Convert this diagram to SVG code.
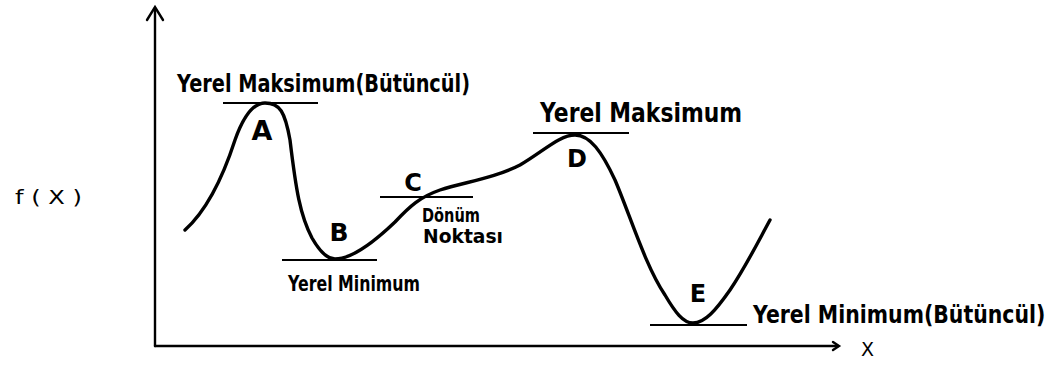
<svg xmlns="http://www.w3.org/2000/svg" width="1063" height="371" viewBox="0 0 1063 371">
<style>
.ax{stroke:#000;stroke-width:2.4;fill:none;stroke-linecap:round}
.crv{stroke:#000;stroke-width:3.4;fill:none;stroke-linecap:round;stroke-linejoin:round}
.tan{stroke:#000;stroke-width:2.2}
.t{font-family:"DejaVu Sans","Liberation Sans",sans-serif;fill:#000;font-weight:bold}
.n{font-family:"DejaVu Sans","Liberation Sans",sans-serif;fill:#000}
</style>
<rect width="1063" height="371" fill="#fff"/>
<g id="axes" class="ax">
<path d="M155,346 L155,8"/>
<path d="M147,20 L155,7 L163,20"/>
<path d="M155,346 L838,346"/>
<path d="M833,342 L839,346 L833,350"/>
</g>
<text class="n" x="15" y="204" font-size="19" textLength="67" lengthAdjust="spacingAndGlyphs">f ( X )</text>
<text class="n" x="861" y="356" font-size="19">X</text>
<g id="connectors">
<path class="crv" d="M185,230 C205,212 222,180 235,140 C245,112 255,103 265,103 C280,103 285,112 290,140 C296,190 300,215 312,238 C320,252 328,259 335,259 C350,259 372,244 395,222 C410,206 420,197 440,190 C465,182 495,178 520,165 C545,150 560,135 575,135 C590,135 602,152 615,180 C630,215 645,265 665,295 C675,312 683,323 693,323 C705,323 716,310 730,290 C745,268 758,242 770,220"/>
</g>
<g id="nodeA">
<line class="tan" x1="223" y1="103" x2="318" y2="103"/>
<text class="t" x="262" y="140" font-size="27" text-anchor="middle">A</text>
<text class="t" x="177" y="92" font-size="25" textLength="293" lengthAdjust="spacingAndGlyphs">Yerel Maksimum(Bütüncül)</text>
</g>
<g id="nodeB">
<line class="tan" x1="282" y1="260" x2="377" y2="260"/>
<text class="t" x="339" y="241" font-size="25" text-anchor="middle">B</text>
<text class="t" x="288" y="291" font-size="22" textLength="132" lengthAdjust="spacingAndGlyphs">Yerel Minimum</text>
</g>
<g id="nodeC">
<line class="tan" x1="380" y1="197" x2="473" y2="197"/>
<text class="t" x="413" y="191" font-size="24" text-anchor="middle">C</text>
<text class="t" x="422" y="222" font-size="19" textLength="58" lengthAdjust="spacingAndGlyphs">Dönüm</text>
<text class="t" x="423" y="243" font-size="19" textLength="80" lengthAdjust="spacingAndGlyphs">Noktası</text>
</g>
<g id="nodeD">
<line class="tan" x1="533" y1="133" x2="629" y2="133"/>
<text class="t" x="577" y="167" font-size="24" text-anchor="middle">D</text>
<text class="t" x="540" y="122" font-size="27" textLength="202" lengthAdjust="spacingAndGlyphs">Yerel Maksimum</text>
</g>
<g id="nodeE">
<line class="tan" x1="650" y1="325" x2="747" y2="325"/>
<text class="t" x="698" y="302" font-size="24" text-anchor="middle">E</text>
<text class="t" transform="translate(753,323) scale(0.84,1)" x="0" y="0" font-size="24" textLength="348" lengthAdjust="spacingAndGlyphs">Yerel Minimum(Bütüncül)</text>
</g>
</svg>
